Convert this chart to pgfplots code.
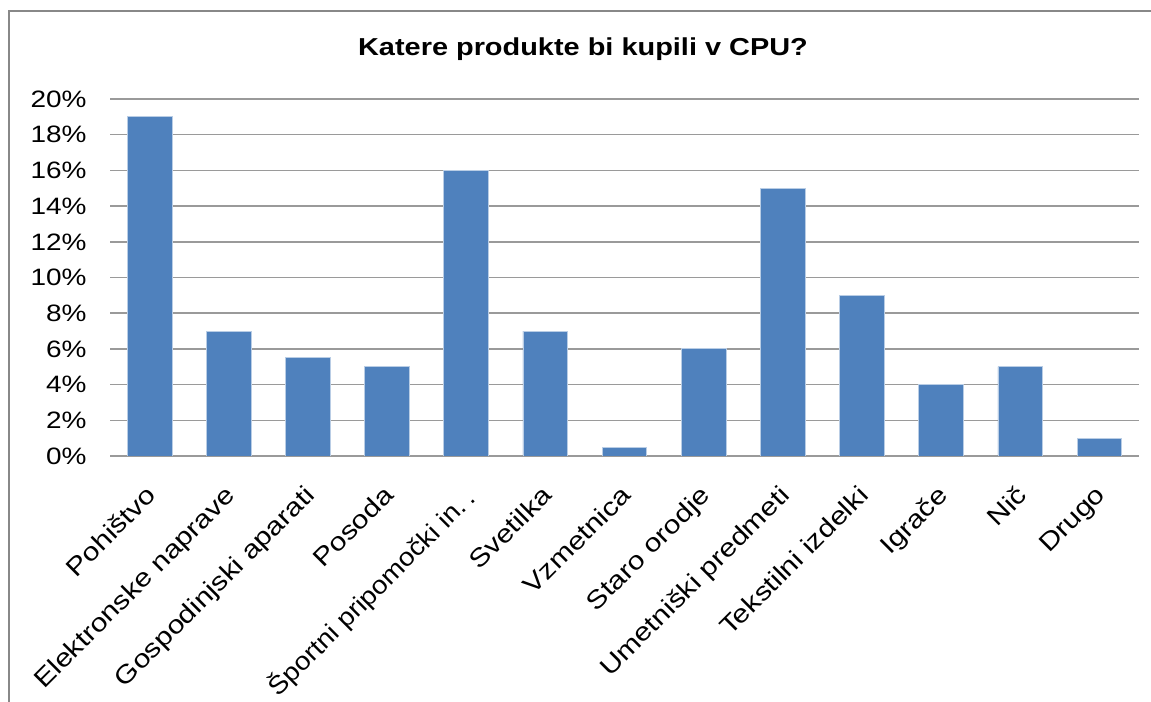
\documentclass[border=0pt]{standalone}
\usepackage{graphicx}
\usepackage{pgfplots}
\pgfplotsset{compat=1.18}
\usepackage{fontspec}
\setmainfont{Liberation Sans}
\definecolor{barblue}{RGB}{79,129,189}
\definecolor{baredge}{RGB}{185,205,229}
\definecolor{gridgray}{RGB}{154,154,154}
\definecolor{framegray}{RGB}{136,136,136}
\newcommand\sx[1]{\scalebox{1.18}[1]{#1}}
\begin{document}
\begin{tikzpicture}
\path[use as bounding box] (0,0) rectangle (1151bp,702bp);
\draw[framegray, line width=2bp] (9bp,0) -- (9bp,691bp) -- (1151bp,691bp);
\node[font=\fontsize{24.5bp}{29bp}\selectfont\bfseries, anchor=base] at (583bp,646bp) {\sx{Katere produkte bi kupili v CPU?}};
\begin{axis}[
  scale only axis,
  width=1029bp, height=357bp,
  at={(110bp,246bp)}, anchor=south west,
  xmin=-0.5, xmax=12.5, ymin=0, ymax=20,
  axis line style={draw=none},
  major tick length=0,
  ytick={0,2,...,20},
  yticklabels={\sx{0\%},\sx{2\%},\sx{4\%},\sx{6\%},\sx{8\%},\sx{10\%},\sx{12\%},\sx{14\%},\sx{16\%},\sx{18\%},\sx{20\%}},
  ymajorgrids,
  grid style={gridgray, line width=1.5bp},
  xtick={0,...,12},
  xticklabels={\sx{Pohištvo},\sx{Elektronske naprave},\sx{Gospodinjski aparati},\sx{Posoda},\scalebox{1.1}[1]{Športni pripomočki in.\,.},\sx{Svetilka},\sx{Vzmetnica},\sx{Staro orodje},\sx{Umetniški predmeti},\sx{Tekstilni izdelki},\sx{Igrače},\sx{Nič},\sx{Drugo}},
  yticklabel style={font=\fontsize{23.7bp}{28bp}\selectfont, anchor=east, xshift=-20bp},
  xticklabel style={font=\fontsize{25.3bp}{30bp}\selectfont, xshift=-5bp, yshift=-25bp, rotate=45, anchor=north east, inner sep=2bp},
]
\addplot[ybar, bar width=0.565, fill=barblue, draw=baredge, line width=0.8bp] coordinates {
(0,19) (1,7) (2,5.5) (3,5) (4,16) (5,7) (6,0.5) (7,6) (8,15) (9,9) (10,4) (11,5) (12,1)
};
\end{axis}
\end{tikzpicture}
\end{document}
